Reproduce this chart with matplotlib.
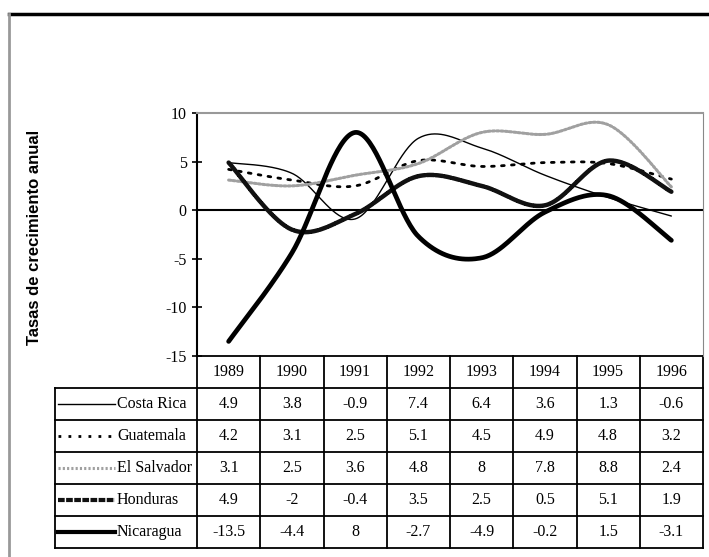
import numpy as np
import matplotlib
matplotlib.use("Agg")
import matplotlib.pyplot as plt
from matplotlib.lines import Line2D

years = ["1989", "1990", "1991", "1992", "1993", "1994", "1995", "1996"]
countries = ["Costa Rica", "Guatemala", "El Salvador", "Honduras", "Nicaragua"]
costa_rica = [4.9, 3.8, -0.9, 7.4, 6.4, 3.6, 1.3, -0.6]
guatemala = [4.2, 3.1, 2.5, 5.1, 4.5, 4.9, 4.8, 3.2]
el_salvador = [3.1, 2.5, 3.6, 4.8, 8, 7.8, 8.8, 2.4]
honduras = [4.9, -2, -0.4, 3.5, 2.5, 0.5, 5.1, 1.9]
nicaragua = [-13.5, -4.4, 8, -2.7, -4.9, -0.2, 1.5, -3.1]
series = [costa_rica, guatemala, el_salvador, honduras, nicaragua]
yticks = [10, 5, 0, -5, -10, -15]
ylabel = "Tasas de crecimiento anual"

styles = [
    dict(color="black", lw=1.0, ls="-"),
    dict(color="black", lw=2.0, ls=(0, (1.0, 2.6))),
    dict(color="#a0a0a0", lw=2.2, ls=(0, (0.7, 0.7))),
    dict(color="#111111", lw=3.2, ls=(0, (1.6, 0.35))),
    dict(color="black", lw=3.4, ls="-"),
]

W, H = 709, 557
fig = plt.figure(figsize=(W / 100, H / 100), dpi=100)
serif = ["Liberation Serif", "DejaVu Serif"]

x0, x1 = 197, 703
ytop, ybot = 113, 356
ax = fig.add_axes([x0 / W, 1 - ybot / H, (x1 - x0) / W, (ybot - ytop) / H])


def smooth(xs, ys, n=40):
    p = np.column_stack([xs, ys]).astype(float)
    pts = np.vstack([p[0], p, p[-1]])
    out = []
    for i in range(1, len(pts) - 2):
        P0, P1, P2, P3 = pts[i - 1], pts[i], pts[i + 1], pts[i + 2]
        c1 = P1 + (P2 - P0) / 6.0
        c2 = P2 - (P3 - P1) / 6.0
        t = np.linspace(0, 1, n)[:, None]
        seg = ((1 - t) ** 3) * P1 + 3 * ((1 - t) ** 2) * t * c1 + 3 * (1 - t) * t ** 2 * c2 + t ** 3 * P2
        out.append(seg if i == 1 else seg[1:])
    s = np.vstack(out)
    return s[:, 0], s[:, 1]


xs = np.arange(len(years))
for vals, st in zip(series, styles):
    sx, sy = smooth(xs, vals)
    ax.plot(sx, sy, color=st["color"], lw=st["lw"], ls=st["ls"],
            solid_capstyle="round", dash_capstyle="round", zorder=3)

ax.axhline(0, color="black", lw=1.5, zorder=2)
ax.set_xlim(-0.5, len(years) - 0.5)
ax.set_ylim(-15, 10)
ax.set_yticks(yticks)
ax.set_yticklabels([str(v) for v in yticks], fontfamily=serif, fontsize=11.5)
ax.tick_params(axis="y", direction="inout", length=7, width=1.2, pad=4)
ax.set_xticks([])
ax.spines["top"].set_color("#999999")
ax.spines["top"].set_linewidth(1.5)
ax.spines["right"].set_color("#888888")
ax.spines["right"].set_linestyle((0, (1, 1)))
ax.spines["left"].set_linewidth(1.5)
ax.spines["bottom"].set_visible(False)
ax.patch.set_alpha(0)

# overlay in pixel coordinates for the table and frame
ov = fig.add_axes([0, 0, 1, 1], zorder=-1)
ov.set_xlim(0, W)
ov.set_ylim(H, 0)
ov.axis("off")

# page frame
ov.plot([9, W], [14, 14], color="black", lw=2.5)
ov.plot([9, 9], [14, H], color="#999999", lw=2)

# y label
ov.text(35, 237, ylabel, rotation=90, ha="center", va="center",
        fontfamily=["Liberation Sans", "DejaVu Sans"], fontweight="bold", fontsize=12)

# table
lab_left = 55
col_w = (x1 - x0) / len(years)
row_top = ybot
row_h = 32
lw_t = 1.3
ov.plot([x0, x1], [row_top, row_top], color="black", lw=lw_t)
for j, yr in enumerate(years):
    cx = x0 + (j + 0.5) * col_w
    ov.text(cx, row_top + row_h / 2, yr, ha="center", va="center",
            fontfamily=serif, fontsize=11.5)
nrows = len(countries)
table_bottom = row_top + row_h * (nrows + 1)
for k in range(1, nrows + 2):
    yy = row_top + k * row_h
    ov.plot([lab_left, x1], [yy, yy], color="black", lw=lw_t)
for j in range(len(years) + 1):
    xx = x0 + j * col_w
    ov.plot([xx, xx], [row_top, table_bottom], color="black", lw=lw_t)
ov.plot([lab_left, lab_left], [row_top + row_h, table_bottom], color="black", lw=lw_t)

for i, (name, vals, st) in enumerate(zip(countries, series, styles)):
    cy = row_top + (i + 1.5) * row_h
    ov.add_line(Line2D([58, 115], [cy, cy], color=st["color"], lw=min(st["lw"], 3.0),
                       ls=st["ls"]))
    ov.text(117, cy, name, ha="left", va="center", fontfamily=serif, fontsize=11.5)
    for j, v in enumerate(vals):
        cx = x0 + (j + 0.5) * col_w
        ov.text(cx, cy, f"{v:g}", ha="center", va="center", fontfamily=serif, fontsize=11.5)

fig.savefig("out.png", dpi=100)
